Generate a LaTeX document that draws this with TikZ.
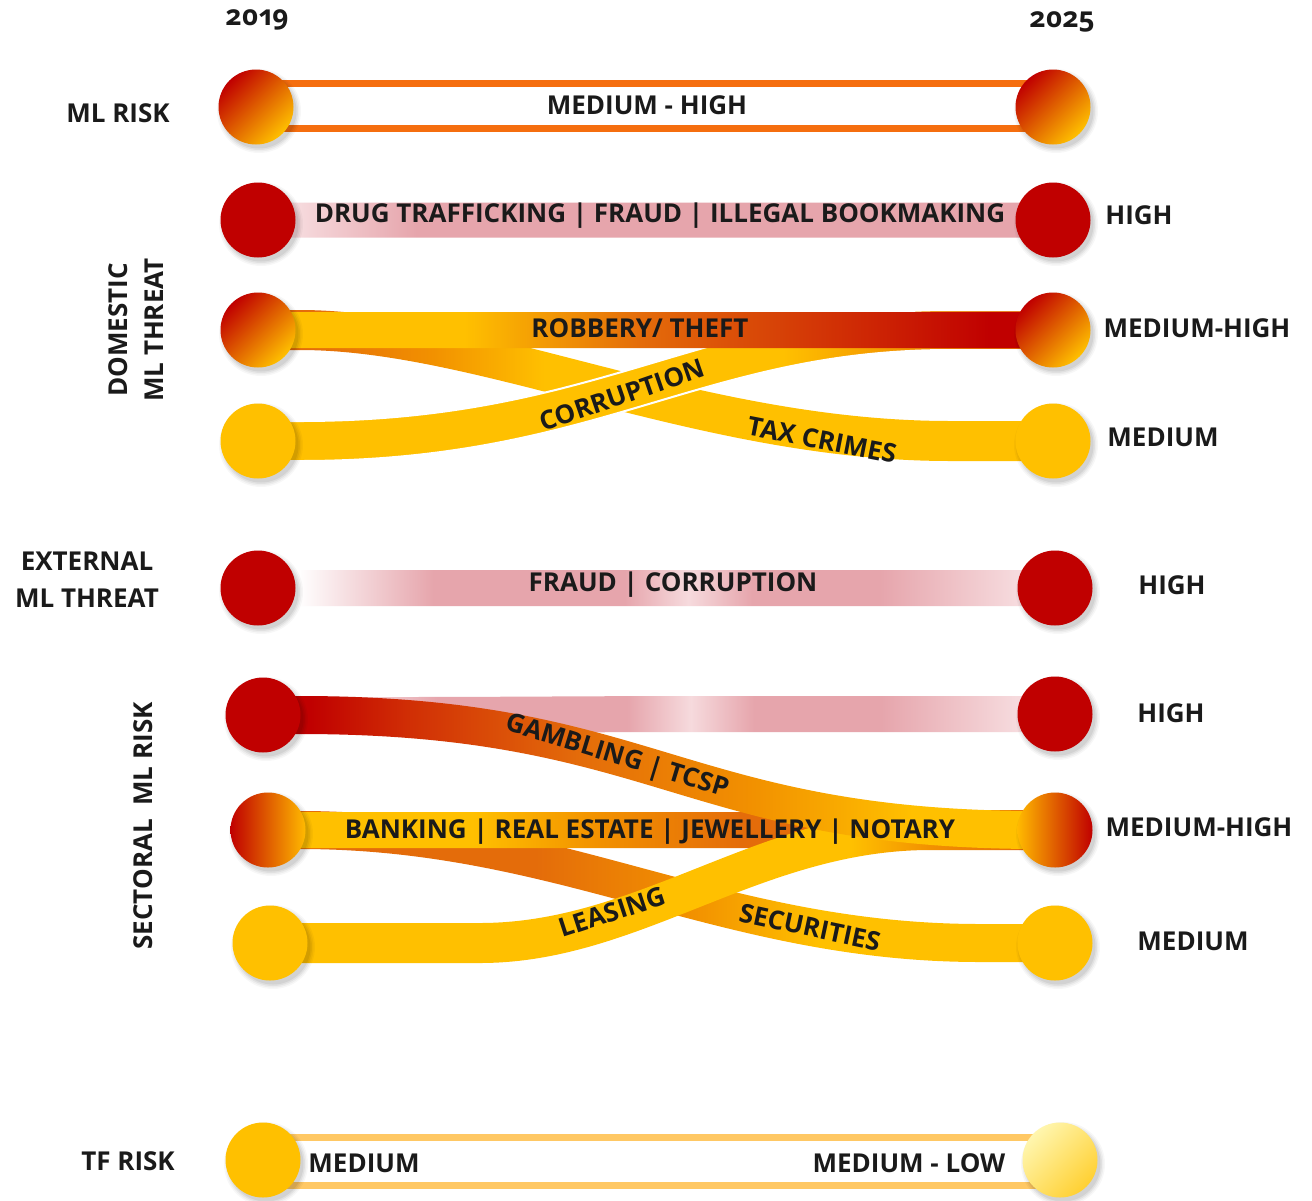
\documentclass[tikz,border=0pt]{standalone}
\usepackage{fontspec}
\setmainfont{Open Sans}
\newfontfamily\yrfont{Open Sans}[Numbers=OldStyle]
\usetikzlibrary{calc}

\definecolor{cred}{RGB}{192,0,0}
\definecolor{cyel}{RGB}{255,192,0}
\definecolor{corg}{RGB}{228,108,10}
\definecolor{corg2}{RGB}{242,145,0}
\definecolor{cred2}{RGB}{208,45,5}
\definecolor{cpink}{RGB}{230,165,172}
\definecolor{cpinkl}{RGB}{246,218,221}
\definecolor{cline}{RGB}{245,110,15}
\definecolor{ctf}{RGB}{255,200,100}
\definecolor{ctxt}{RGB}{26,26,26}
\definecolor{clight}{RGB}{255,246,175}
\definecolor{clight2}{RGB}{255,208,50}
\definecolor{cmid}{RGB}{236,110,10}

\pgfdeclarehorizontalshading{shpinkA}{100bp}{color(0bp)=(cpinkl); color(27.5bp)=(cpinkl); color(35bp)=(cpink); color(72bp)=(cpink); color(100bp)=(cpink)}
\pgfdeclarehorizontalshading{shpinkB}{100bp}{color(0bp)=(white); color(27.5bp)=(white); color(36bp)=(cpink); color(48bp)=(cpink); color(52bp)=(cpinkl); color(56bp)=(cpink); color(64bp)=(cpink); color(72.5bp)=(cpinkl); color(100bp)=(cpinkl)}
\pgfdeclarehorizontalshading{shrob}{100bp}{color(0bp)=(cyel); color(38bp)=(cyel); color(49bp)=(corg); color(62bp)=(cred2); color(71bp)=(cred); color(100bp)=(cred)}
\pgfdeclarehorizontalshading{shtax}{100bp}{color(0bp)=(corg); color(28bp)=(corg); color(36bp)=(corg2); color(43bp)=(cyel); color(100bp)=(cyel)}
\pgfdeclarehorizontalshading{shcor}{100bp}{color(0bp)=(cyel); color(58bp)=(cyel); color(66bp)=(corg2); color(73bp)=(corg); color(100bp)=(corg)}
\pgfdeclarehorizontalshading{shgam}{100bp}{color(0bp)=(cred); color(28bp)=(cred); color(34bp)=(cred2); color(45bp)=(corg); color(56bp)=(corg2); color(66bp)=(cyel); color(100bp)=(cyel)}
\pgfdeclarehorizontalshading{shbank}{100bp}{color(0bp)=(cyel); color(38bp)=(cyel); color(46bp)=(corg2); color(55bp)=(corg); color(100bp)=(corg)}
\pgfdeclarehorizontalshading{shsec}{100bp}{color(0bp)=(corg); color(42bp)=(corg); color(52bp)=(corg2); color(60bp)=(cyel); color(100bp)=(cyel)}
\pgfdeclarehorizontalshading{shlea}{100bp}{color(0bp)=(cyel); color(62bp)=(cyel); color(67bp)=(corg2); color(73bp)=(corg); color(100bp)=(corg)}

\pgfdeclarelayer{back}
\pgfdeclarelayer{bands}
\pgfdeclarelayer{shadow}
\pgfsetlayers{back,bands,shadow,main}

% #1 options, #2 half thickness (pt), #3 from node, #4 to node, #5 curve start x, #6 c1 x, #7 c2 x, #8 curve end x
\newcommand{\band}[8]{%
  \shade[#1] let \p1=(#3.center), \p2=(#4.center) in
    (\x1,\y1+#2pt) -- (#5pt,\y1+#2pt) .. controls (#6pt,\y1+#2pt) and (#7pt,\y2+#2pt) .. (#8pt,\y2+#2pt)
    -- (\x2,\y2+#2pt) -- (\x2,\y2-#2pt) -- (#8pt,\y2-#2pt)
    .. controls (#7pt,\y2-#2pt) and (#6pt,\y1-#2pt) .. (#5pt,\y1-#2pt) -- (\x1,\y1-#2pt) -- cycle;}

\tikzset{
  ball/.style={circle, minimum size=75pt, inner sep=0pt},
  redball/.style={ball, fill=cred},
  yelball/.style={ball, fill=cyel},
  mhball/.style={ball, top color=cred, middle color=cmid, bottom color=cyel, shading angle=45},
  mhleft/.style={ball, left color=cred, middle color=cmid, right color=cyel!90!orange},
  mhright/.style={ball, left color=cyel!90!orange, middle color=cmid, right color=cred},
  lightball/.style={ball, top color=clight, bottom color=clight2, shading angle=45},
  lbl/.style={font=\bfseries\fontsize{26}{30}\selectfont, text=ctxt, inner sep=0pt},
  yr/.style={font=\yrfont\bfseries\fontsize{28}{32}\selectfont, text=ctxt, inner sep=0pt},
  mlline/.style={draw=cline, line width=7pt},
  tfline/.style={draw=ctf, line width=7pt},
  shadowdisc/.style={fill=black, opacity=#1},
}

\begin{document}
\begin{tikzpicture}[x=1pt, y=-1pt]
\begin{pgfonlayer}{back}
\fill[white] (0,0) rectangle (1312,1200);
\end{pgfonlayer}
\useasboundingbox (0,0) rectangle (1312,1200);

% ---------- circles
\node[mhball]    (ML1) at (256,107) {};
\node[mhball]    (ML2) at (1053,107) {};
\node[redball]   (DH1) at (258,220) {};
\node[redball]   (DH2) at (1053,220) {};
\node[mhball]    (DM1) at (258,330) {};
\node[mhball]    (DM2) at (1053,330) {};
\node[yelball]   (DL1) at (258,441) {};
\node[yelball]   (DL2) at (1053,441) {};
\node[redball]   (EX1) at (258,588) {};
\node[redball]   (EX2) at (1055,588) {};
\node[redball]   (SH1) at (263,715) {};
\node[redball]   (SH2) at (1055,714) {};
\node[mhleft]    (SM1) at (268,830) {};
\node[mhright]   (SM2) at (1055,830) {};
\node[yelball]   (SL1) at (270,943) {};
\node[yelball]   (SL2) at (1055,943) {};
\node[yelball]   (TF1) at (263,1160) {};
\node[lightball] (TF2) at (1060,1160) {};

% ---------- soft shadows
\begin{pgfonlayer}{shadow}
\foreach \n in {ML1,ML2,DH1,DH2,DM1,DM2,DL1,DL2,EX1,EX2,SH1,SH2,SM1,SM2,SL1,SL2,TF1,TF2}{
  \foreach \r/\o in {42/0.03, 40.5/0.04, 39/0.05, 37.5/0.06}{
    \fill[shadowdisc=\o] ($(\n.center)+(3,4)$) circle[radius=\r pt];
  }
}
\end{pgfonlayer}

% ---------- bands / connectors
\begin{pgfonlayer}{bands}
\draw[mlline] ($(ML1.center)+(0,-23.5)$) -- ($(ML2.center)+(0,-23.5)$);
\draw[mlline] ($(ML1.center)+(0,21.5)$) -- ($(ML2.center)+(0,21.5)$);

\band{shading=shpinkA}{17.5}{DH1}{DH2}{400}{500}{600}{700}
\band{shading=shtax}{20}{DM1}{DL2}{300}{480}{700}{950}
\band{shading=shcor, draw=white, line width=2pt}{20}{DL1}{DM2}{300}{600}{700}{950}
\band{shading=shrob}{18}{DM1}{DM2}{400}{500}{600}{700}

\band{shading=shpinkB}{18}{EX1}{EX2}{400}{500}{600}{700}

\band{shading=shpinkB}{18}{SH1}{SH2}{400}{500}{600}{700}
\band{shading=shsec}{19}{SM1}{SL2}{300}{560}{720}{980}
\band{shading=shbank}{18}{SM1}{SM2}{400}{500}{600}{700}
\band{shading=shlea}{20}{SL1}{SM2}{480}{640}{760}{930}
\band{shading=shgam}{19}{SH1}{SM2}{300}{657}{683}{1040}

\draw[tfline] ($(TF1.center)+(0,-23)$) -- ($(TF2.center)+(0,-23)$);
\draw[tfline] ($(TF1.center)+(0,25)$) -- ($(TF2.center)+(0,25)$);
\end{pgfonlayer}

% ---------- headers
\node[yr] (y1) at (257,20) {2019};
\node[yr] (y2) at (1062,22) {2025};

% ---------- left labels
\node[lbl] (lML) at (118,113) {ML RISK};
\node[lbl, rotate=90, align=center] (lDOM) at (136,330) {DOMESTIC\\[6pt]ML THREAT};
\node[lbl, align=center] (lEXT) at (87,580) {EXTERNAL\\[7pt]ML THREAT};
\node[lbl, rotate=90] (lSEC) at (143,826) {SECTORAL\ \ ML RISK};
\node[lbl] (lTF) at (128,1161) {TF RISK};

% ---------- right labels
\node[lbl] (rDH) at (1139,215) {HIGH};
\node[lbl] (rDM) at (1197,328) {MEDIUM-HIGH};
\node[lbl] (rDL) at (1163,437) {MEDIUM};
\node[lbl] (rEX) at (1172,585) {HIGH};
\node[lbl] (rSH) at (1171,713) {HIGH};
\node[lbl] (rSM) at (1199,827) {MEDIUM-HIGH};
\node[lbl] (rSL) at (1193,941) {MEDIUM};

% ---------- band labels
\node[lbl] (tML) at (647,105) {MEDIUM - HIGH};
\node[lbl] (tDRUG) at (660,216) {DRUG TRAFFICKING | FRAUD | ILLEGAL BOOKMAKING};
\node[lbl] (tROB) at (640,328) {ROBBERY/ THEFT};
\node[lbl, rotate=19] (tCOR) at (622,395) {CORRUPTION};
\node[lbl, rotate=-11] (tTAX) at (822,440) {TAX CRIMES};
\node[lbl] (tEXT) at (673,585) {FRAUD | CORRUPTION};
\node[lbl, rotate=-17] (tGAM) at (617,757) {GAMBLING | TCSP};
\node[lbl] (tBANK) at (650,832) {BANKING | REAL ESTATE | JEWELLERY | NOTARY};
\node[lbl, rotate=18] (tLEA) at (612,912) {LEASING};
\node[lbl, rotate=-12] (tSEC) at (810,927) {SECURITIES};
\node[lbl] (tTF1) at (364,1163) {MEDIUM};
\node[lbl] (tTF2) at (909,1163) {MEDIUM - LOW};
\end{tikzpicture}
\end{document}
